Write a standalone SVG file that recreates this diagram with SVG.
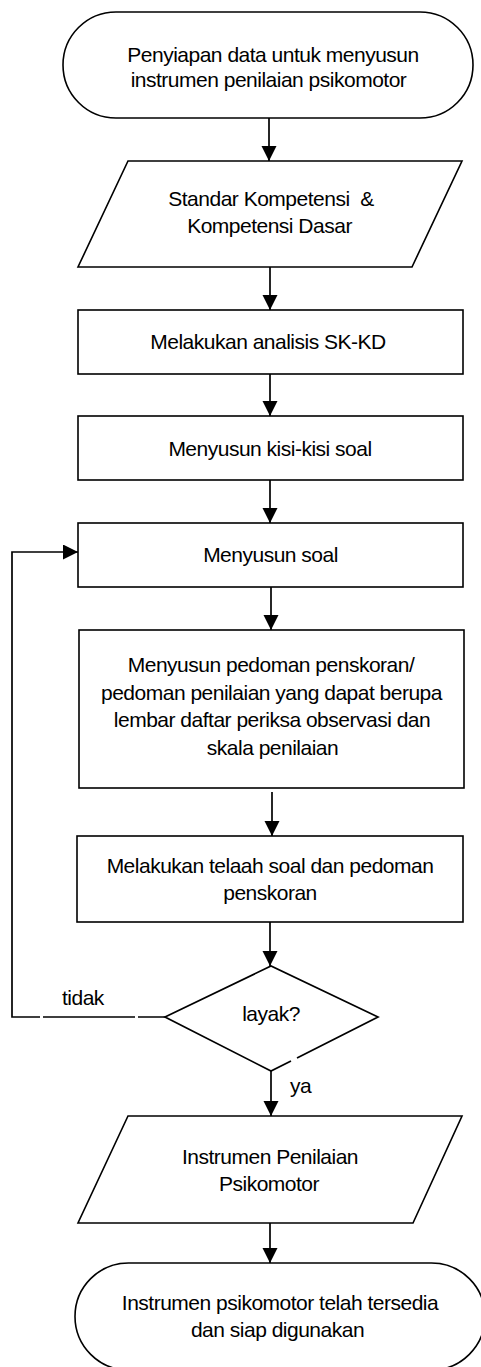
<svg xmlns="http://www.w3.org/2000/svg" width="481" height="1367" viewBox="0 0 481 1367">
<defs>
<marker id="ah" markerUnits="userSpaceOnUse" markerWidth="16" markerHeight="16" viewBox="0 0 16 16" refX="15" refY="7.5" orient="auto">
<path d="M0,0 L15,7.5 L0,15 Z" fill="#000"/>
</marker>
<style>
.s{fill:#fff;stroke:#000;stroke-width:1.6}
.c{fill:none;stroke:#000;stroke-width:1.7}
.t{font-family:"Liberation Sans",Arial,sans-serif;font-size:21px;letter-spacing:-0.5px;fill:#000;text-anchor:middle}
.l{font-family:"Liberation Sans",Arial,sans-serif;font-size:21px;letter-spacing:-0.5px;fill:#000}
</style>
</defs>
<rect width="481" height="1367" fill="#fff"/>

<g id="connectors">
<line class="c" x1="269" y1="118" x2="269" y2="161" marker-end="url(#ah)"/>
<line class="c" x1="270" y1="267" x2="270" y2="310" marker-end="url(#ah)"/>
<line class="c" x1="270" y1="374" x2="270" y2="416" marker-end="url(#ah)"/>
<line class="c" x1="270" y1="480" x2="270" y2="523" marker-end="url(#ah)"/>
<line class="c" x1="271" y1="587" x2="271" y2="630" marker-end="url(#ah)"/>
<line class="c" x1="272" y1="792" x2="272" y2="836" marker-end="url(#ah)"/>
<line class="c" x1="270" y1="922" x2="270" y2="966" marker-end="url(#ah)"/>
<line class="c" x1="271" y1="1071" x2="271" y2="1116" marker-end="url(#ah)"/>
<line class="c" x1="270" y1="1223" x2="270" y2="1263" marker-end="url(#ah)"/>
<path class="c" d="M165,1017 L138,1017 M135,1017 L43,1017 M40,1017 L12,1017 L12,552 L78,552" marker-end="url(#ah)"/>
<text class="l" x="62" y="1005">tidak</text>
<text class="l" x="290" y="1093">ya</text>
</g>

<g id="start">
<rect class="s" x="63" y="12" width="410" height="106" rx="53" ry="53"/>
<text class="t" x="273" y="62">Penyiapan data untuk menyusun</text>
<text class="t" x="268.5" y="87">instrumen penilaian psikomotor</text>
</g>

<g id="input1">
<polygon class="s" points="128,161 462,161 412,267 78,267"/>
<text class="t" x="271" y="206" xml:space="preserve">Standar Kompetensi  &amp;</text>
<text class="t" x="269.5" y="233">Kompetensi Dasar</text>
</g>

<g id="p1">
<rect class="s" x="78" y="310" width="385" height="64"/>
<text class="t" x="268" y="349">Melakukan analisis SK-KD</text>
</g>

<g id="p2">
<rect class="s" x="78" y="416" width="385" height="64"/>
<text class="t" x="270" y="456">Menyusun kisi-kisi soal</text>
</g>

<g id="p3">
<rect class="s" x="78" y="523" width="385" height="64"/>
<text class="t" x="270.5" y="562">Menyusun soal</text>
</g>

<g id="p4">
<rect class="s" x="79" y="630" width="385" height="158"/>
<text class="t" x="271" y="672">Menyusun pedoman penskoran/</text>
<text class="t" x="271.5" y="699.5">pedoman penilaian yang dapat berupa</text>
<text class="t" x="272" y="727">lembar daftar periksa observasi dan</text>
<text class="t" x="272.5" y="754.5">skala penilaian</text>
</g>

<g id="p5">
<rect class="s" x="77" y="836" width="386" height="86"/>
<text class="t" x="270" y="873">Melakukan telaah soal dan pedoman</text>
<text class="t" x="270" y="900">penskoran</text>
</g>

<g id="decision">
<polygon points="271,966 378,1017 271,1071 165,1017" fill="#fff"/>
<path class="c" d="M297,1058 L378,1017 L271,966 L165,1017 L271,1071 L291,1061" stroke-linejoin="miter" stroke-width="1.6"/>
<text class="t" x="271" y="1021">layak?</text>
</g>

<g id="output">
<polygon class="s" points="128,1116 462,1116 413,1223 78,1223"/>
<text class="t" x="270" y="1164">Instrumen Penilaian</text>
<text class="t" x="269" y="1191">Psikomotor</text>
</g>

<g id="end">
<rect class="s" x="75" y="1263" width="410" height="107" rx="53.5" ry="53.5"/>
<text class="t" x="280" y="1310">Instrumen psikomotor telah tersedia</text>
<text class="t" x="277.5" y="1337">dan siap digunakan</text>
</g>
</svg>
